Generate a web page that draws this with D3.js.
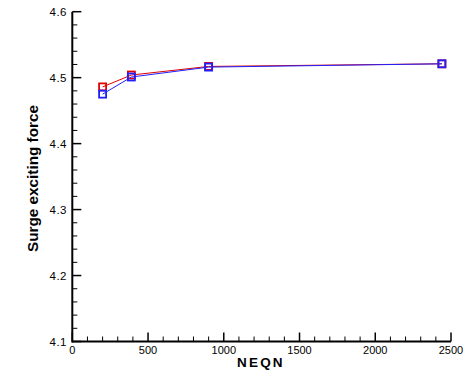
<!DOCTYPE html>
<html>
<head>
<meta charset="utf-8">
<script src="https://d3js.org/d3.v7.min.js"></script>
<style>
body { margin: 0; background: #fff; }
text { font-family: "Liberation Sans", Arial, sans-serif; }
</style>
</head>
<body>
<script>
// data
var neqn = [200, 390, 900, 2440]
var redForce = [4.486, 4.504, 4.517, 4.521]
var blueForce = [4.475, 4.501, 4.516, 4.521]
var xTicks = [0, 500, 1000, 1500, 2000, 2500]
var yTicks = [4.1, 4.2, 4.3, 4.4, 4.5, 4.6]

var W = 466, H = 372
var svg = d3.select('body').append('svg').attr('width', W).attr('height', H)

var x = d3.scaleLinear().domain([0, 2500]).range([72.3, 451])
var y = d3.scaleLinear().domain([4.1, 4.6]).range([341.5, 11.7])

// minor ticks
var xMinor = d3.range(0, 2501, 100).filter(function (d) { return d % 500 })
var yMinor = d3.range(0, 26).map(function (i) { return 4.1 + i * 0.02 }).filter(function (d, i) { return i % 5 })

var g = svg.append('g')
g.selectAll('.xm').data(xMinor).enter().append('line')
    .attr('x1', function (d) { return x(d) }).attr('x2', function (d) { return x(d) })
    .attr('y1', y(4.1)).attr('y2', y(4.1) - 5)
    .attr('stroke', '#000').attr('stroke-width', 1)
g.selectAll('.xM').data(xTicks).enter().append('line')
    .attr('x1', function (d) { return x(d) }).attr('x2', function (d) { return x(d) })
    .attr('y1', y(4.1)).attr('y2', y(4.1) - 9)
    .attr('stroke', '#000').attr('stroke-width', 1.5)
g.selectAll('.ym').data(yMinor).enter().append('line')
    .attr('y1', function (d) { return y(d) }).attr('y2', function (d) { return y(d) })
    .attr('x1', x(0)).attr('x2', x(0) + 5)
    .attr('stroke', '#000').attr('stroke-width', 1)
g.selectAll('.yM').data(yTicks).enter().append('line')
    .attr('y1', function (d) { return y(d) }).attr('y2', function (d) { return y(d) })
    .attr('x1', x(0)).attr('x2', x(0) + 9)
    .attr('stroke', '#000').attr('stroke-width', 1.5)

// axis lines
g.append('line').attr('x1', x(0)).attr('x2', x(2500)).attr('y1', y(4.1)).attr('y2', y(4.1))
    .attr('stroke', '#000').attr('stroke-width', 2)
g.append('line').attr('x1', x(0)).attr('x2', x(0)).attr('y1', y(4.1) + 1).attr('y2', y(4.6))
    .attr('stroke', '#000').attr('stroke-width', 2)

// tick labels
g.selectAll('.xl').data(xTicks).enter().append('text')
    .attr('x', function (d) { return x(d) }).attr('y', 354)
    .attr('text-anchor', 'middle').attr('font-size', 11).text(function (d) { return d })
g.selectAll('.yl').data(yTicks).enter().append('text')
    .attr('x', 67).attr('y', function (d) { return y(d) + 4 })
    .attr('text-anchor', 'end').attr('font-size', 11.5).attr('letter-spacing', 0.5)
    .text(function (d) { return d.toFixed(1) })

// axis titles
svg.append('text').attr('x', 237).attr('y', 367)
    .attr('font-size', 13.5).attr('font-weight', 'bold').attr('letter-spacing', 2.2).text('NEQN')
svg.append('text').attr('transform', 'translate(38,252) rotate(-90)')
    .attr('font-size', 14).attr('font-weight', 'bold')
    .attr('textLength', 147).attr('lengthAdjust', 'spacingAndGlyphs').text('Surge exciting force')

// series
function series(vals, color) {
    var pts = neqn.map(function (n, i) { return [n, vals[i]] })
    svg.append('path').datum(pts)
        .attr('d', d3.line().x(function (d) { return x(d[0]) }).y(function (d) { return y(d[1]) }))
        .attr('fill', 'none').attr('stroke', color).attr('stroke-width', 1)
    svg.selectAll(null).data(pts).enter().append('rect')
        .attr('x', function (d) { return x(d[0]) - 3.5 }).attr('y', function (d) { return y(d[1]) - 3.5 })
        .attr('width', 7).attr('height', 7)
        .attr('fill', 'none').attr('stroke', color).attr('stroke-width', 1.8)
}
series(redForce, '#e00000')
series(blueForce, '#2020ff')
</script>
</body>
</html>
